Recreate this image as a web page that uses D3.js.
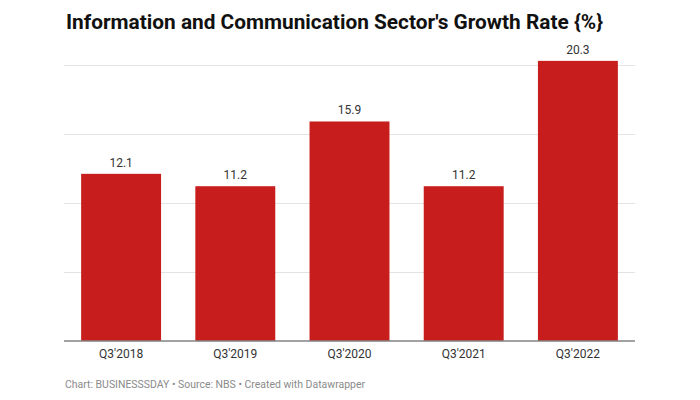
<!DOCTYPE html>
<html>
<head>
<meta charset="utf-8">
<script src="https://cdn.jsdelivr.net/npm/d3@7"></script>
<style>
  html, body { margin: 0; padding: 0; background: #fff; }
  svg { display: block; font-family: Roboto, "Noto Sans", sans-serif; }
</style>
</head>
<body>
<svg id="chart" width="700" height="400"></svg>
<script>
const categories = ["Q3'2018", "Q3'2019", "Q3'2020", "Q3'2021", "Q3'2022"];
const values = [12.1, 11.2, 15.9, 11.2, 20.3];
const gridTicks = [0, 5, 10, 15, 20];
const titleText = "Information and Communication Sector's Growth Rate {%}";
const footerText = "Chart: BUSINESSSDAY \u2022 Source: NBS \u2022 Created with Datawrapper";

const svg = d3.select("#chart");
const plotLeft = 64, plotRight = 635, plotTop = 65, plotBottom = 340.5;

const x = d3.scaleBand().domain(categories).range([plotLeft, plotRight]).paddingInner(0.3).paddingOuter(0.15);
const y = d3.scaleLinear().domain([0, 20]).range([plotBottom, plotTop]);

// Title
svg.append("text")
  .attr("x", 66).attr("y", 29)
  .attr("font-size", 20).attr("font-weight", 700).attr("fill", "#111")
  .attr("textLength", 537).attr("lengthAdjust", "spacingAndGlyphs")
  .text(titleText);

// Gridlines
svg.append("g").selectAll("line")
  .data(gridTicks.filter(d => d > 0))
  .join("line")
  .attr("x1", plotLeft).attr("x2", plotRight)
  .attr("y1", d => Math.round(y(d)) + 0.5).attr("y2", d => Math.round(y(d)) + 0.5)
  .attr("stroke", "#e3e3e3").attr("stroke-width", 1);

// Bars
svg.append("g").selectAll("rect")
  .data(values)
  .join("rect")
  .attr("x", (d, i) => x(categories[i]))
  .attr("width", x.bandwidth())
  .attr("y", d => y(d))
  .attr("height", d => y(0) - y(d))
  .attr("fill", "#c71e1d");

// Value labels
svg.append("g").selectAll("text")
  .data(values)
  .join("text")
  .attr("x", (d, i) => x(categories[i]) + x.bandwidth() / 2)
  .attr("y", d => y(d) - 7)
  .attr("text-anchor", "middle")
  .attr("font-size", 12).attr("fill", "#333")
  .text(d => d.toFixed(1));

// X axis
const xAxis = svg.append("g")
  .attr("transform", `translate(0,${plotBottom})`)
  .call(d3.axisBottom(x).tickSize(0).tickPadding(9));
xAxis.select(".domain").attr("stroke", "#444").attr("stroke-width", 1).attr("d", `M${plotLeft},0.5H${plotRight}`);
xAxis.selectAll("text").attr("font-size", 12).attr("fill", "#333").attr("font-family", "Roboto, sans-serif");

// Footer
svg.append("text")
  .attr("x", 65).attr("y", 388)
  .attr("font-size", 11).attr("fill", "#8a8a8a")
  .attr("textLength", 300).attr("lengthAdjust", "spacingAndGlyphs")
  .text(footerText);
</script>
</body>
</html>
